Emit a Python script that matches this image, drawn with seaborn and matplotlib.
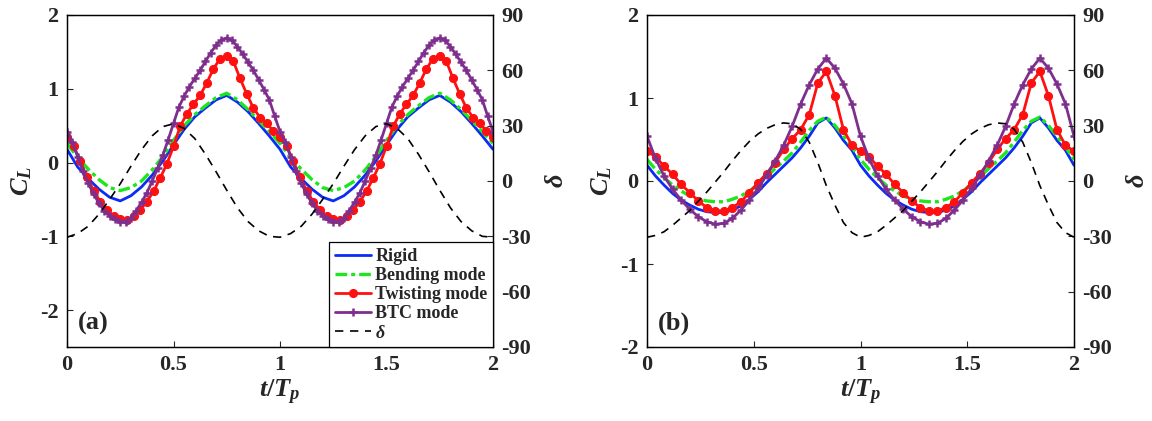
import numpy as np
import matplotlib
matplotlib.use("Agg")
import matplotlib.pyplot as plt
import seaborn as sns

# ---- one flapping period of each signal (the second period repeats it) ----
# panel (a)
rigid_a = [0.18, -0.06, -0.22, -0.36, -0.47, -0.52, -0.45, -0.33, -0.17, 0.02,
           0.24, 0.45, 0.62, 0.74, 0.85, 0.91, 0.82, 0.69, 0.53, 0.36]
bending_a = [0.26, 0.07, -0.09, -0.23, -0.34, -0.38, -0.34, -0.25, -0.10, 0.08,
             0.30, 0.50, 0.65, 0.77, 0.88, 0.94, 0.85, 0.72, 0.57, 0.42]
twisting_a = [0.34, 0.22, 0.02, -0.20, -0.38, -0.53, -0.64, -0.73, -0.77, -0.78,
              -0.73, -0.64, -0.53, -0.39, -0.21, -0.02, 0.22, 0.49, 0.66, 0.79,
              0.91, 1.08, 1.27, 1.41, 1.44, 1.37, 1.14, 0.93, 0.74, 0.61, 0.53, 0.43]
btc_a = [0.42, 0.28, 0.08, -0.12, -0.28, -0.43, -0.55, -0.65, -0.72, -0.77,
         -0.80, -0.80, -0.75, -0.65, -0.54, -0.41, -0.25, -0.08, 0.10, 0.31,
         0.53, 0.75, 0.90, 1.03, 1.14, 1.25, 1.37, 1.49, 1.59, 1.66,
         1.69, 1.66, 1.57, 1.47, 1.36, 1.25, 1.12, 0.99, 0.85, 0.63]
delta_a = [-30.5, -28.5, -24.5, -18, -10, -1.5, 8, 17, 24.5, 29.5,
           31, 28.5, 23, 14.5, 5, -5, -14.5, -22, -27, -30]

# panel (b)
rigid_b = [0.19, 0.06, -0.05, -0.15, -0.23, -0.29, -0.34, -0.37, -0.38, -0.38,
           -0.35, -0.30, -0.22, -0.13, -0.02, 0.08, 0.18, 0.28, 0.40, 0.54,
           0.70, 0.76, 0.64, 0.49, 0.37]
bending_b = [0.26, 0.14, 0.04, -0.05, -0.12, -0.18, -0.22, -0.24, -0.25, -0.25,
             -0.22, -0.18, -0.12, -0.04, 0.05, 0.15, 0.24, 0.34, 0.47, 0.61,
             0.72, 0.77, 0.67, 0.54, 0.41]
twisting_b = [0.36, 0.29, 0.18, 0.08, -0.04, -0.14, -0.24, -0.32, -0.36, -0.36,
              -0.32, -0.25, -0.14, -0.02, 0.09, 0.22, 0.38, 0.51, 0.62, 0.80,
              1.18, 1.32, 1.03, 0.62, 0.43]
btc_b = [0.54, 0.27, 0.06, -0.10, -0.23, -0.34, -0.43, -0.49, -0.52, -0.51,
         -0.45, -0.35, -0.23, -0.09, 0.07, 0.24, 0.43, 0.66, 0.93, 1.16,
         1.35, 1.48, 1.36, 1.17, 0.93]
delta_b = [-30.5, -29.5, -27.5, -24, -20, -16, -11, -6, -0.5, 5,
           11, 16.5, 21.5, 25.5, 28.5, 30.5, 31.5, 31, 28, 21,
           10, -2.5, -13, -22.5, -28]

n_periods = 2
xticks = [0, 0.5, 1, 1.5, 2]
xtick_labels = ["0", "0.5", "1", "1.5", "2"]
labels = ["Rigid", "Bending mode", "Twisting mode", "BTC mode", r"$\delta$"]


def periodic(values):
    """Sample times and values over n_periods, closing at the final instant."""
    v = np.asarray(values, dtype=float)
    n = len(v)
    t = np.arange(n_periods * n + 1) / n
    y = np.concatenate([np.tile(v, n_periods), v[:1]])
    return t, y


sns.set_style("ticks")
plt.rcParams["font.family"] = ["Liberation Serif", "DejaVu Serif"]
plt.rcParams["font.weight"] = "bold"
plt.rcParams["axes.labelweight"] = "bold"
plt.rcParams["axes.unicode_minus"] = False
plt.rcParams["mathtext.fontset"] = "custom"
plt.rcParams["mathtext.it"] = "Liberation Serif:italic:bold"
plt.rcParams["mathtext.rm"] = "Liberation Serif:bold"
plt.rcParams["mathtext.bf"] = "Liberation Serif:bold"

BLUE = "#0A2CF5"
GREEN = "#1EE61E"
RED = "#FF1010"
PURPLE = "#7E2F8E"

fig = plt.figure(figsize=(11.52, 4.21), dpi=100)
bottom = 1 - 347 / 421
height = 332 / 421
ax_a = fig.add_axes([67 / 1152, bottom, 426 / 1152, height])
ax_b = fig.add_axes([647 / 1152, bottom, 427 / 1152, height])


def draw_panel(ax, rigid, bending, twisting, btc, delta, ylim, tag, legend):
    t, y = periodic(rigid)
    sns.lineplot(x=t, y=y, ax=ax, color=BLUE, lw=2.0, estimator=None,
                 sort=False, label=labels[0])
    t, y = periodic(bending)
    sns.lineplot(x=t, y=y, ax=ax, color=GREEN, lw=2.4, estimator=None,
                 sort=False, linestyle=(0, (3.5, 1.2, 1.2, 1.2)),
                 label=labels[1])
    t, y = periodic(twisting)
    sns.lineplot(x=t, y=y, ax=ax, color=RED, lw=2.0, estimator=None,
                 sort=False, marker="o", markersize=5.8,
                 markeredgecolor=RED, markerfacecolor=RED, label=labels[2])
    t, y = periodic(btc)
    sns.lineplot(x=t, y=y, ax=ax, color=PURPLE, lw=2.0, estimator=None,
                 sort=False, marker="+", markersize=6, markeredgewidth=1.8,
                 markeredgecolor=PURPLE, label=labels[3])
    if ax.get_legend() is not None:
        ax.get_legend().remove()

    ax.set_xlim(0, 2)
    ax.set_ylim(*ylim)
    ax.set_xticks(xticks)
    ax.set_xticklabels(xtick_labels)
    ax.set_yticks([-2, -1, 0, 1, 2])
    ax.tick_params(axis="both", direction="in", labelsize=16, length=4,
                   width=0.8, pad=6)
    ax.set_xlabel(r"$t/T_p$", fontsize=19, labelpad=2)
    ax.set_ylabel(r"$C_L$", fontsize=19, labelpad=4)
    for s in ax.spines.values():
        s.set_linewidth(0.9)
        s.set_color("black")

    ax2 = ax.twinx()
    t, y = periodic(delta)
    sns.lineplot(x=t, y=y, ax=ax2, color="black", lw=1.2, estimator=None,
                 sort=False, linestyle=(0, (5, 4)), label=labels[4])
    if ax2.get_legend() is not None:
        ax2.get_legend().remove()
    ax2.set_xlim(0, 2)
    ax2.set_ylim(-90, 90)
    ax2.set_yticks([-90, -60, -30, 0, 30, 60, 90])
    ax2.tick_params(axis="y", direction="in", labelsize=16, length=4,
                    width=0.8, pad=6)
    ax2.set_ylabel(r"$\delta$", fontsize=19, labelpad=10)
    for s in ax2.spines.values():
        s.set_linewidth(0.9)
        s.set_color("black")

    ax.text(0.025, 0.035, tag, transform=ax.transAxes, fontsize=19,
            fontweight="bold", ha="left", va="bottom")

    if legend:
        handles = ax.get_lines()[:4] + ax2.get_lines()[:1]
        leg = ax2.legend(handles, labels, loc="lower right", fontsize=13,
                         frameon=True, fancybox=False, framealpha=1,
                         edgecolor="black", borderaxespad=0, borderpad=0.3,
                         handlelength=2.0, handletextpad=0.25,
                         labelspacing=0.12)
        leg.get_frame().set_linewidth(0.9)


draw_panel(ax_a, rigid_a, bending_a, twisting_a, btc_a, delta_a,
           (-2.5, 2), "(a)", True)
draw_panel(ax_b, rigid_b, bending_b, twisting_b, btc_b, delta_b,
           (-2, 2), "(b)", False)

fig.savefig("out.png", dpi=100)
